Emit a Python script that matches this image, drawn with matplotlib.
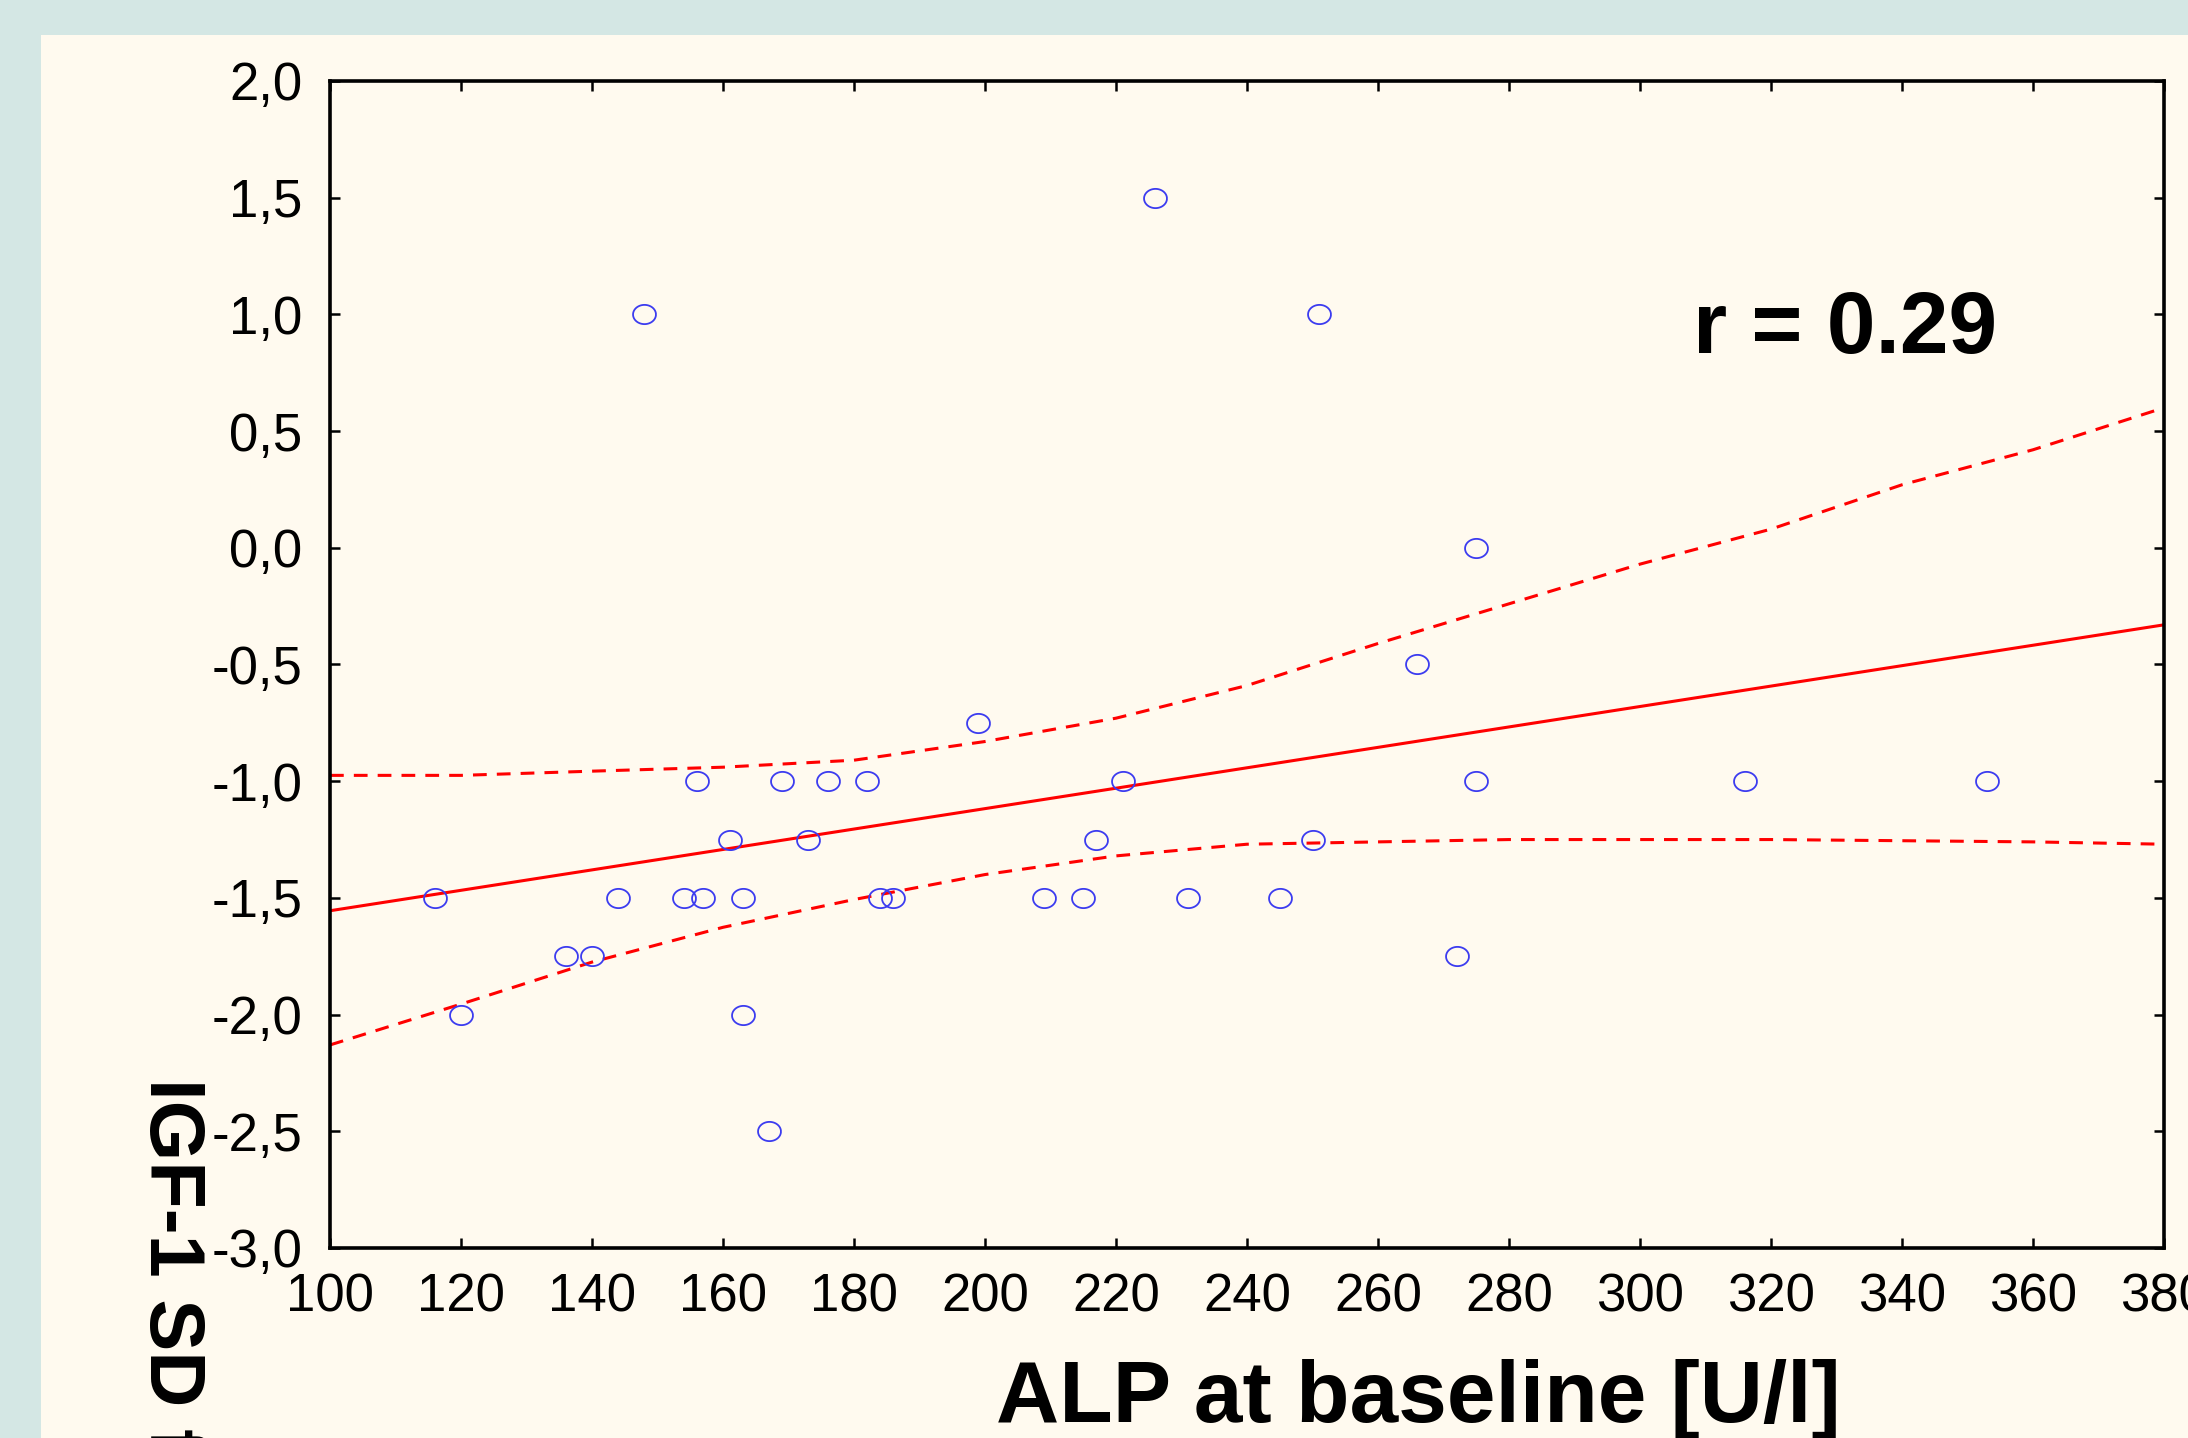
import numpy as np
import matplotlib
matplotlib.use("Agg")
import matplotlib.pyplot as plt
from matplotlib.path import Path
from matplotlib.patches import Rectangle

plt.rcParams['font.family'] = ['Liberation Sans', 'DejaVu Sans']

# ---------------- data ----------------
alp = [116, 120, 136, 140, 144, 148, 154, 156, 157, 161, 163, 163, 167, 169,
       173, 176, 182, 184, 186, 199, 209, 215, 217, 221, 226, 231, 245, 250,
       251, 266, 272, 275, 275, 316, 353]
igf = [-1.5, -2.0, -1.75, -1.75, -1.5, 1.0, -1.5, -1.0, -1.5, -1.25, -1.5, -2.0, -2.5, -1.0,
       -1.25, -1.0, -1.0, -1.5, -1.5, -0.75, -1.5, -1.5, -1.25, -1.0, 1.5, -1.5, -1.5, -1.25,
       1.0, -0.5, -1.75, 0.0, -1.0, -1.0, -1.0]

fit_x = [100, 380]
fit_y = [-1.555, -0.33]

ci_x = [100, 120, 140, 160, 180, 200, 220, 240, 260, 280, 300, 320, 340, 360, 380]
ci_upper = [-0.975, -0.975, -0.957, -0.94, -0.91, -0.83, -0.73, -0.59, -0.41, -0.24,
            -0.07, 0.08, 0.27, 0.42, 0.60]
ci_lower = [-2.13, -1.955, -1.775, -1.626, -1.507, -1.40, -1.32, -1.27, -1.26, -1.25,
            -1.25, -1.25, -1.255, -1.26, -1.27]

x_ticks = [100, 120, 140, 160, 180, 200, 220, 240, 260, 280, 300, 320, 340, 360, 380]
y_ticks = [2.0, 1.5, 1.0, 0.5, 0.0, -0.5, -1.0, -1.5, -2.0, -2.5, -3.0]
y_labels = ["2,0", "1,5", "1,0", "0,5", "0,0", "-0,5", "-1,0", "-1,5", "-2,0", "-2,5", "-3,0"]

r_text = "r = 0.29"
x_label = "ALP at baseline [U/l]"
y_label = "IGF-1 SD for age"

# ---------------- figure ----------------
W, H = 2188, 1438
teal = '#d4e7e4'
cream = '#fffaef'
fig = plt.figure(figsize=(W / 100, H / 100), dpi=100, facecolor=teal)

fig.patches.append(Rectangle((41 / W, 0), 1, 1 - 35 / H, transform=fig.transFigure,
                             facecolor=cream, edgecolor='none', zorder=-10))

ax = fig.add_axes([330 / W, 1 - 1248 / H, (2164 - 330) / W, (1248 - 81) / H])
ax.set_facecolor(cream)

# elliptical marker
t = np.linspace(0, 2 * np.pi, 60)
ell = Path(np.column_stack([np.cos(t), 0.84 * np.sin(t)]))

ax.plot(fit_x, fit_y, color='#ff0000', lw=2.2, zorder=2)
ax.plot(ci_x, ci_upper, color='#ff0000', lw=2.2, dashes=(4.5, 3.3), zorder=2)
ax.plot(ci_x, ci_lower, color='#ff0000', lw=2.2, dashes=(4.5, 3.3), zorder=2)
ax.plot(alp, igf, linestyle='none', marker=ell, ms=16.5, mfc='none',
        mec='#3c3cf0', mew=1.3, zorder=3)

ax.set_xlim(100, 380)
ax.set_ylim(-3.0, 2.0)
ax.set_xticks(x_ticks)
ax.set_xticklabels([str(v) for v in x_ticks])
ax.set_yticks(y_ticks)
ax.set_yticklabels(y_labels)

for s in ax.spines.values():
    s.set_linewidth(2.6)
    s.set_color('black')
ax.tick_params(direction='in', length=7, width=1.8, top=True, right=True,
               labelsize=38, colors='black')
ax.tick_params(axis='x', pad=18)
ax.tick_params(axis='y', pad=20)

ax.text(1693 / W, 1 - 353 / H, r_text, transform=fig.transFigure, fontsize=63,
        fontweight='bold', ha='left', va='baseline')

fig.text(1418 / W, 1 - 1422 / H, x_label, fontsize=63, fontweight='bold',
         ha='center', va='baseline')

fig.text(150 / W, 1 - 1078 / H, y_label, fontsize=56, fontweight='bold',
         rotation=-90, rotation_mode='anchor', ha='left', va='baseline')

fig.savefig('out.png', dpi=100, facecolor=teal)
